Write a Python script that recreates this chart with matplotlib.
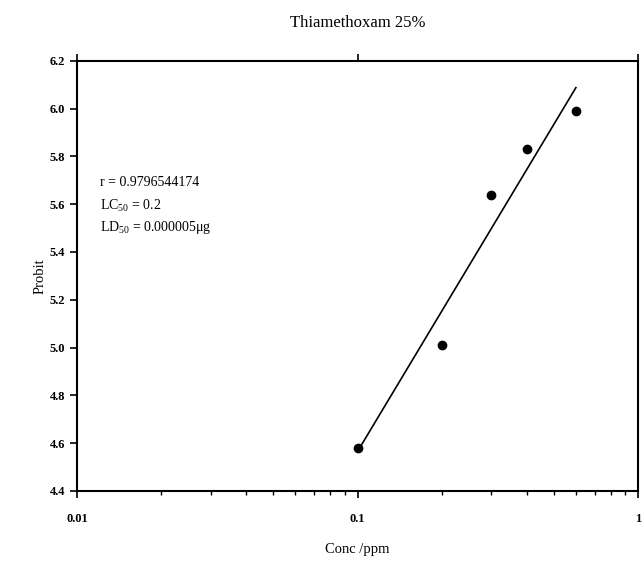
import numpy as np
import matplotlib
matplotlib.use("Agg")
import matplotlib.pyplot as plt
from matplotlib.ticker import FixedLocator, FixedFormatter, LogLocator, NullFormatter

plt.rcParams['font.family'] = ['Liberation Serif', 'DejaVu Serif']
plt.rcParams['mathtext.fontset'] = 'custom'
plt.rcParams['mathtext.rm'] = 'Liberation Serif'
plt.rcParams['mathtext.it'] = 'Liberation Serif:italic'
plt.rcParams['mathtext.bf'] = 'Liberation Serif:bold'

# Data
conc = [0.1, 0.2, 0.3, 0.4, 0.6]
probit = [4.58, 5.01, 5.64, 5.83, 5.99]
y_ticks = [4.4, 4.6, 4.8, 5.0, 5.2, 5.4, 5.6, 5.8, 6.0, 6.2]
x_ticks = [0.01, 0.1, 1]
x_labels = ["0.01", "0.1", "1"]
stats_lines = ["r = 0.9796544174", "LC$_{\\mathrm{50}}$ = 0.2", "LD$_{\\mathrm{50}}$ = 0.000005\u03bcg"]

fig = plt.figure(figsize=(6.42, 5.63), dpi=100, facecolor='white')
ax = fig.add_axes([0.12, 0.128, 0.874, 0.764])

# regression line of probit on log10 conc
logx = np.log10(conc)
slope, intercept = np.polyfit(logx, probit, 1)
xl = np.array([min(logx), max(logx)])
ax.plot(10 ** xl, slope * xl + intercept, color='black', linewidth=1.2, zorder=2)

ax.plot(conc, probit, 'o', color='black', markersize=6, zorder=3)

ax.set_xscale('log')
ax.set_xlim(0.01, 1)
ax.set_ylim(4.4, 6.2)

ax.xaxis.set_major_locator(FixedLocator(x_ticks))
ax.xaxis.set_major_formatter(FixedFormatter(x_labels))
ax.xaxis.set_minor_locator(LogLocator(base=10, subs=np.arange(2, 10)))
ax.xaxis.set_minor_formatter(NullFormatter())
ax.set_yticks(y_ticks)
ax.set_yticklabels([f"{v:.1f}" for v in y_ticks])

ax.tick_params(axis='both', which='major', direction='out', length=5, width=1.2,
               labelsize=9, top=True, right=False)
ax.tick_params(axis='x', which='minor', direction='out', length=3, width=1,
               top=False, bottom=True)
ax.tick_params(axis='y', which='minor', left=False, right=False)
ax.tick_params(axis='x', which='major', pad=11)
for lab in ax.get_xticklabels() + ax.get_yticklabels():
    lab.set_fontweight('bold')

for sp in ax.spines.values():
    sp.set_linewidth(1.5)

ax.set_xlabel("Conc /ppm", fontsize=10.5, labelpad=13)
ax.set_ylabel("Probit", fontsize=10.5, labelpad=2)
fig.text(0.557, 0.96, "Thiamethoxam 25%", ha='center', va='center', fontsize=12)

for i, line in enumerate(stats_lines):
    fig.text(0.156, 1 - (183 + i * 22.5) / 563, line, ha='left', va='center', fontsize=10)

fig.savefig("out.png", dpi=100, facecolor='white')
